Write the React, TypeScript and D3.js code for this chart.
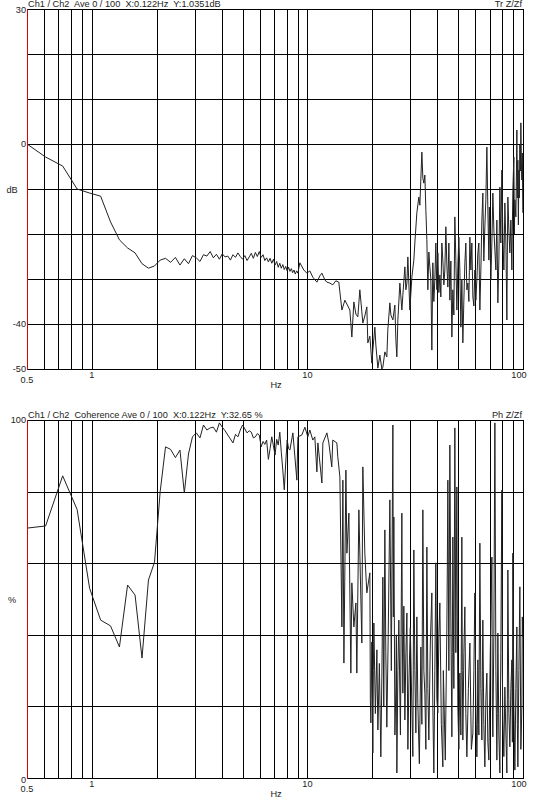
import React from 'react';
import * as d3 from 'd3';

// Tr Z/Zf, dB — FFT bins below 9 Hz
const trHzLow = [
  0.5, 0.61, 0.732, 0.854, 0.976, 1.098, 1.22, 1.342, 1.464, 1.586, 1.708, 1.83, 1.952,
  2.074, 2.196, 2.318, 2.44, 2.562, 2.684, 2.806, 2.928, 3.05, 3.172, 3.294, 3.416, 3.538,
  3.66, 3.782, 3.904, 4.026, 4.148, 4.27, 4.392, 4.514, 4.636, 4.758, 4.88, 5.002, 5.124,
  5.246, 5.368, 5.49, 5.612, 5.734, 5.856, 5.978, 6.1, 6.222, 6.344, 6.466, 6.588, 6.71,
  6.832, 6.954, 7.076, 7.198, 7.32, 7.442, 7.564, 7.686, 7.808, 7.93, 8.052, 8.174, 8.296,
  8.418, 8.54, 8.662, 8.784, 8.906, 9.028,
];
const trDbLow = [
  0, -2.9, -4.9, -10, -10.9, -11.6, -17.3, -21.3, -23.1, -24.2, -26.6, -27.6, -27.1,
  -25.8, -25.4, -26.3, -25.2, -26.9, -25.5, -26.6, -24.8, -25.3, -26.1, -24.6, -24.9, -23.9,
  -25.3, -24.5, -25.6, -24.4, -25.1, -24.9, -25.8, -24.6, -25.2, -24.2, -25.0, -25.6, -24.8,
  -25.9, -25.1, -24.3, -25.4, -24.1, -25.0, -23.9, -25.2, -24.6, -25.9, -25.3, -26.2, -25.4,
  -26.5, -25.6, -26.9, -26.1, -27.4, -26.5, -27.6, -26.8, -27.9, -27.2, -28.2, -27.4, -28.3,
  -27.7, -28.6, -28.0, -28.9, -28.2, -28.7,
];
// 9 – 36 Hz
const trHzMid = [
  9.22, 9.62, 9.94, 10.26, 10.59, 11.06, 11.42, 11.67, 12.05, 12.31, 12.7, 13.11, 13.54,
  13.98, 14.45, 14.92, 15.4, 15.73, 16.07, 16.42, 16.78, 17.13, 17.5, 17.88, 18.07, 18.46,
  18.86, 19.06, 19.48, 19.9, 20.11, 20.55, 20.77, 21.22, 21.67, 22.14, 22.38, 22.86, 23.35,
  23.6, 24.12, 24.38, 24.91, 25.44, 25.72, 25.99, 26.27, 26.84, 27.42, 27.71, 28.31, 28.62,
  28.93, 29.23, 29.86, 30.51, 31.16, 31.5, 32.18, 32.87, 33.23, 33.95, 34.31, 34.68, 35.05,
  35.43,
];
const trDbMid = [
  -26.4, -28.0, -28.7, -28.2, -29.6, -30.7, -29.3, -28.7, -30.2, -30.7, -30.9, -31.3, -30.4,
  -30.7, -36.9, -34.7, -36.0, -36.9, -42.9, -35.1, -37.8, -38.4, -32.4, -37.3, -39.8, -38.2,
  -36.2, -44.2, -42.7, -48.7, -45.8, -40.7, -44.7, -49.8, -46.9, -50, -49.6, -46.2, -47.3,
  -41.3, -35.3, -38.0, -39.1, -35.8, -43.6, -47.3, -39.1, -30.9, -36.9, -33.6, -27.3, -32.4,
  -30.9, -25.1, -36.9, -29.6, -25.8, -22.0, -15.3, -11.8, -13.6, -1.8, -7.6, -8.7, -6.9,
  -14.7,
];
// 36 – 100 Hz
const trHzHigh = [
  35.81, 36.19, 36.58, 36.97, 37.37, 37.77, 38.17, 38.58, 39.0, 39.42, 39.84, 40.27, 40.7,
  41.14, 41.58, 42.03, 42.48, 42.94, 43.4, 43.86, 44.34, 44.81, 45.3, 45.78, 46.27, 46.77,
  47.27, 47.78, 48.29, 48.81, 49.34, 49.87, 50.4, 50.94, 51.49, 52.04, 52.6, 53.17, 53.74,
  54.3, 54.9, 55.49, 56.1, 56.69, 57.3, 57.9, 58.54, 59.17, 59.8, 60.44, 61.1, 61.75, 62.4,
  63.08, 63.76, 64.44, 65.13, 65.8, 66.54, 67.25, 67.98, 68.71, 69.45, 69.82, 70.19, 70.94,
  71.71, 72.48, 73.26, 74.05, 74.85, 75.64, 76.45, 77.27, 77.69, 78.1, 78.9, 79.79, 80.65,
  81.51, 82.39, 83.3, 84.17, 84.6, 85.07, 85.99, 86.91, 87.84, 88.79, 89.26, 89.74, 90.7,
  91.2, 91.68, 92.66, 93.16, 93.66, 94.16, 94.67, 95.18, 95.68, 96.2, 96.71, 97.23, 97.75,
  98.27, 98.8, 99.3, 99.8,
];
const trDbHigh = [
  -21.3, -32.4, -24, -27.3, -30, -45.8, -26.4, -35, -30.2, -22, -32.4, -24.2, -33,
  -29.1, -34.0, -22, -25.8, -31.3, -28, -18.4, -26.9, -31.8, -22, -34.7, -26, -42.9,
  -32.4, -38, -16.2, -25.8, -36.9, -27, -20.7, -28.0, -40.7, -30, -44.2, -34.7, -26.4,
  -22, -32.4, -30.9, -35, -20.7, -28.0, -22, -34.0, -36, -28.0, -34.7, -30, -24.2, -22,
  -36.9, -28.0, -16.9, -10.9, -26, -18.4, -12.4, -0.7, -14.7, -25.8, -14, -20.7, -30.2,
  -22, -10.9, -19.1, -23.6, -28, -16.9, -35.3, -25.8, -18, -9.6, -22, -5.8, -20.7,
  -28.0, -13.1, -22, -39.1, -24, -11.8, -19.1, -24.2, -16.9, -28, -18, -10.2, -2.9,
  -20, -12.4, -16.2, -8, 3.1, -12, -3.6, -18, -5.8, -12, -0.2, -6, 4.7,
  -4, -8.0, -2, -15.3,
];

// coherence, %
const cohHzLow = [
  0.5, 0.61, 0.732, 0.854, 0.976, 1.098, 1.22, 1.342, 1.464, 1.586, 1.708, 1.83, 1.952,
  2.074, 2.196, 2.318, 2.44, 2.562, 2.684, 2.806, 2.928, 3.05, 3.172, 3.294, 3.416, 3.538,
  3.66, 3.782, 3.904, 4.026, 4.148, 4.27, 4.392, 4.514, 4.636, 4.758, 4.88, 5.002, 5.124,
  5.246, 5.368, 5.49, 5.612, 5.734, 5.856, 5.978, 6.1, 6.222, 6.344, 6.466, 6.588, 6.71,
  6.832, 6.954, 7.076, 7.198, 7.32, 7.442, 7.564, 7.686, 7.808, 7.93, 8.052, 8.174,
];
const cohPctLow = [
  69.8, 70.4, 84.4, 75.0, 53.0, 44.1, 42.5, 36.6, 53.9, 51.1, 33.5, 55.3, 60.3,
  80.0, 92.5, 91.8, 89.5, 91.6, 79.6, 90.5, 95.3, 96.4, 95.0, 98.6, 97.2, 97.8,
  98.0, 96.6, 99.2, 98.0, 97.0, 95.8, 94.7, 93.6, 96.0, 95.3, 97.2, 98.6, 97.5,
  96.4, 97.0, 96.6, 95.0, 95.3, 96.2, 95.8, 92.5, 94.0, 93.2, 94.4, 89.0, 92.0,
  95.3, 92.8, 90.2, 94.6, 93.0, 96.6, 91.0, 86.0, 80.5, 88.0, 94.4, 92.0,
];
const cohHzMid = [
  8.29, 8.56, 8.93, 9.03, 9.42, 9.73, 10.04, 10.26, 10.59, 10.82, 11.06, 11.18, 11.67, 11.79,
  12.31, 12.57, 12.97, 13.11, 13.69, 13.83, 14.14, 14.45, 14.6, 14.76, 15.08, 15.24, 15.57,
  15.9, 16.07, 16.42, 16.78, 16.95, 17.32, 17.88, 18.07, 18.46, 18.86,
];
const cohPctMid = [
  91.6, 96.4, 83.2, 95.3, 95.8, 98.0, 95.3, 97.2, 94.4, 95.3, 85.5, 93.6, 82.4, 93.6,
  96.4, 93.6, 86.9, 94.4, 93.6, 89.7, 84.1, 42.2, 83.2, 32.1, 86.0, 62.8, 74.0,
  29.3, 54.5, 42.2, 48.9, 29.3, 74.9, 37.7, 86.9, 62.8, 51.7,
];
const cohHzHigh = [
  19.48, 19.58, 19.69, 19.9, 20.11, 20.22, 20.33, 20.66, 21.0, 21.1,
  21.22, 21.56, 21.9, 22.14, 22.38, 22.6, 22.86, 23.1, 23.35, 23.7,
  24.12, 24.5, 24.91, 25.04, 25.17, 25.45, 25.72, 25.85, 25.99, 26.27,
  26.55, 27.0, 27.42, 27.56, 27.71, 28.0, 28.31, 28.62, 28.93, 29.24,
  29.55, 30.0, 30.51, 30.83, 31.16, 31.5, 31.84, 32.18, 32.52, 33.05,
  33.59, 33.95, 34.31, 34.68, 35.05, 35.43, 35.81, 36.19, 36.58, 37.17,
  37.77, 38.17, 38.58, 39.0, 39.41, 39.84, 40.27, 40.7, 41.14, 41.8,
  42.48, 42.7, 42.94, 43.6, 44.34, 44.57, 44.81, 45.3, 45.78, 46.27,
  46.77, 47.0, 47.27, 47.78, 48.29, 48.8, 49.34, 49.6, 49.86, 50.4,
  50.94, 51.5, 52.04, 52.3, 52.6, 53.17, 53.74, 54.3, 54.9, 55.8,
  56.69, 57.6, 58.54, 59.17, 59.8, 60.44, 61.1, 61.42, 61.75, 62.4,
  63.08, 63.76, 64.44, 64.8, 65.13, 65.8, 66.54, 67.25, 67.98, 68.7,
  69.45, 70.5, 71.71, 72.1, 72.48, 73.26, 74.05, 74.85, 75.64, 76.0,
  76.45, 77.27, 78.1, 78.9, 79.79, 80.2, 80.65, 81.5, 82.39, 83.3,
  84.17, 84.6, 85.07, 86.0, 86.91, 87.84, 88.79, 89.26, 89.74, 90.7,
  91.68, 92.66, 93.66, 94.16, 94.67, 95.68, 96.71, 97.75, 98.8, 99.3,
  99.8,
];
const cohPctHigh = [
  57.3, 22, 15.4, 38, 7, 30, 43.3, 18, 35.8, 24,
  13.4, 32, 5.9, 28, 56.1, 20, 69.3, 35, 14.2, 40,
  77.7, 30, 98.6, 45, 72.9, 12, 25.4, 40, 1.4, 30,
  44.1, 12, 74, 40, 23.7, 48, 16.2, 35, 46.1, 8,
  26.5, 42, 19.8, 6, 63.7, 30, 12.6, 45, 20.9, 4,
  36.6, 15, 74.9, 30, 23.7, 8, 64.5, 25, 10.6, 38,
  51.7, 20, 1.4, 30, 60.1, 22, 18.2, 40, 48.9, 15,
  3.1, 30, 23.7, 5, 42.2, 60, 83.2, 30, 93, 45,
  11.5, 35, 67.3, 25, 97.8, 35, 81.3, 45, 19.8, 8,
  29.3, 12, 67.3, 30, 10.6, 35, 47.8, 18, 5.9, 25,
  37.7, 8, 12.6, 30, 51.7, 20, 5.9, 15, 33, 12,
  65.6, 25, 10.6, 30, 44.1, 15, 3.1, 22, 29.3, 10,
  5, 35, 61.7, 20, 11.5, 40, 99.2, 30, 5, 18,
  40.5, 12, 1.4, 35, 80.4, 30, 16.2, 6, 25.4, 12,
  1.4, 22, 58.1, 18, 8.7, 25, 33, 10, 62.8, 20,
  2.2, 25, 42.2, 15, 3.1, 30, 53.4, 8, 19.8, 45,
  39.4,
];

const gridHz = [0.6, 0.7, 0.8, 0.9, 1, 2, 3, 4, 5, 6, 7, 8, 9, 10, 20, 30, 40, 50, 60, 70, 80, 90, 100];
const dbTicks = [30, 20, 10, 0, -10, -20, -30, -40, -50];
const pctTicks = [100, 80, 60, 40, 20, 0];

const trHz = trHzLow.concat(trHzMid, trHzHigh);
const trDb = trDbLow.concat(trDbMid, trDbHigh);
const cohHz = cohHzLow.concat(cohHzMid, cohHzHigh);
const cohPct = cohPctLow.concat(cohPctMid, cohPctHigh);

const font = '"Liberation Sans", Arial, sans-serif';
const left = 27;
const right = 523;

const x = d3.scaleLog().domain([0.5, 100]).range([left, right]);
const px = (v: number) => Math.round(v) + 0.5;

function Panel(props: any) {
  const { y, ticks, hz, vals, top, bottom, header, headerW, tag, labels, unit, unitAt, clipId } = props;
  const line = d3.line<number>()
    .x((d, i) => x(hz[i]))
    .y((d) => y(d));
  return (
    <g>
      <defs>
        <clipPath id={clipId}>
          <rect x={left} y={top} width={right - left} height={bottom - top + 1} />
        </clipPath>
      </defs>
      {ticks.map((t: number) => (
        <line key={'h' + t} x1={left} x2={right + 1} y1={px(y(t))} y2={px(y(t))} stroke="#000" />
      ))}
      {gridHz.map((f) => (
        <line key={'v' + f} x1={px(x(f))} x2={px(x(f))} y1={top} y2={bottom} stroke="#000" />
      ))}
      <rect x={left + 1} y={top - 12} width={headerW} height={12} fill="#fff" />
      <rect x={493} y={top - 12} width={41} height={12} fill="#fff" />
      <path d={line(vals) || ''} fill="none" stroke="#222" strokeWidth={1} clipPath={`url(#${clipId})`} />
      <line x1={px(left)} x2={px(left)} y1={top} y2={bottom + 1} stroke="#e00000" />
      <g fontFamily={font} fontSize={9.2} fill="#222">
        <text x={28} y={top - 2} style={{ whiteSpace: 'pre' }}>{header}</text>
        <text x={522} y={top - 2} textAnchor="end">{tag}</text>
        {labels.map((l: any) => (
          <text key={l.t} x={26} y={y(l.v) + 3 + (l.dy || 0)} textAnchor="end">{l.t}</text>
        ))}
        <text x={12} y={y(unitAt) + 4} textAnchor="middle">{unit}</text>
        <text x={left} y={bottom + 14} textAnchor="middle">0.5</text>
        <text x={x(1)} y={bottom + 9} textAnchor="middle">1</text>
        <text x={x(10)} y={bottom + 9} textAnchor="middle">10</text>
        <text x={519} y={bottom + 9} textAnchor="middle">100</text>
        <text x={276} y={bottom + 19} textAnchor="middle">Hz</text>
      </g>
    </g>
  );
}

export default function App() {
  const yDb = d3.scaleLinear().domain([-50, 30]).range([369, 9]);
  const yPct = d3.scaleLinear().domain([0, 100]).range([778, 420]);
  return (
    <svg width={534} height={800} style={{ position: 'absolute', left: 0, top: 0, background: '#fff' }}>
      <rect width={534} height={800} fill="#fff" />
      <Panel
        y={yDb}
        ticks={dbTicks}
        hz={trHz}
        vals={trDb}
        top={9}
        bottom={369}
        header={'Ch1 / Ch2  Ave 0 / 100  X:0.122Hz  Y:1.0351dB'}
        headerW={202}
        tag="Tr Z/Zf"
        labels={[{ t: '30', v: 30, dy: 1 }, { t: '0', v: 0 }, { t: '-40', v: -40 }, { t: '-50', v: -50 }]}
        unit="dB"
        unitAt={-10}
        clipId="clipTr"
      />
      <Panel
        y={yPct}
        ticks={pctTicks}
        hz={cohHz}
        vals={cohPct}
        top={420}
        bottom={778}
        header={'Ch1 / Ch2  Coherence Ave 0 / 100  X:0.122Hz  Y:32.65 %'}
        headerW={234}
        tag="Ph Z/Zf"
        labels={[{ t: '100', v: 100 }, { t: '0', v: 0, dy: 2 }]}
        unit="%"
        unitAt={50}
        clipId="clipCoh"
      />
    </svg>
  );
}
